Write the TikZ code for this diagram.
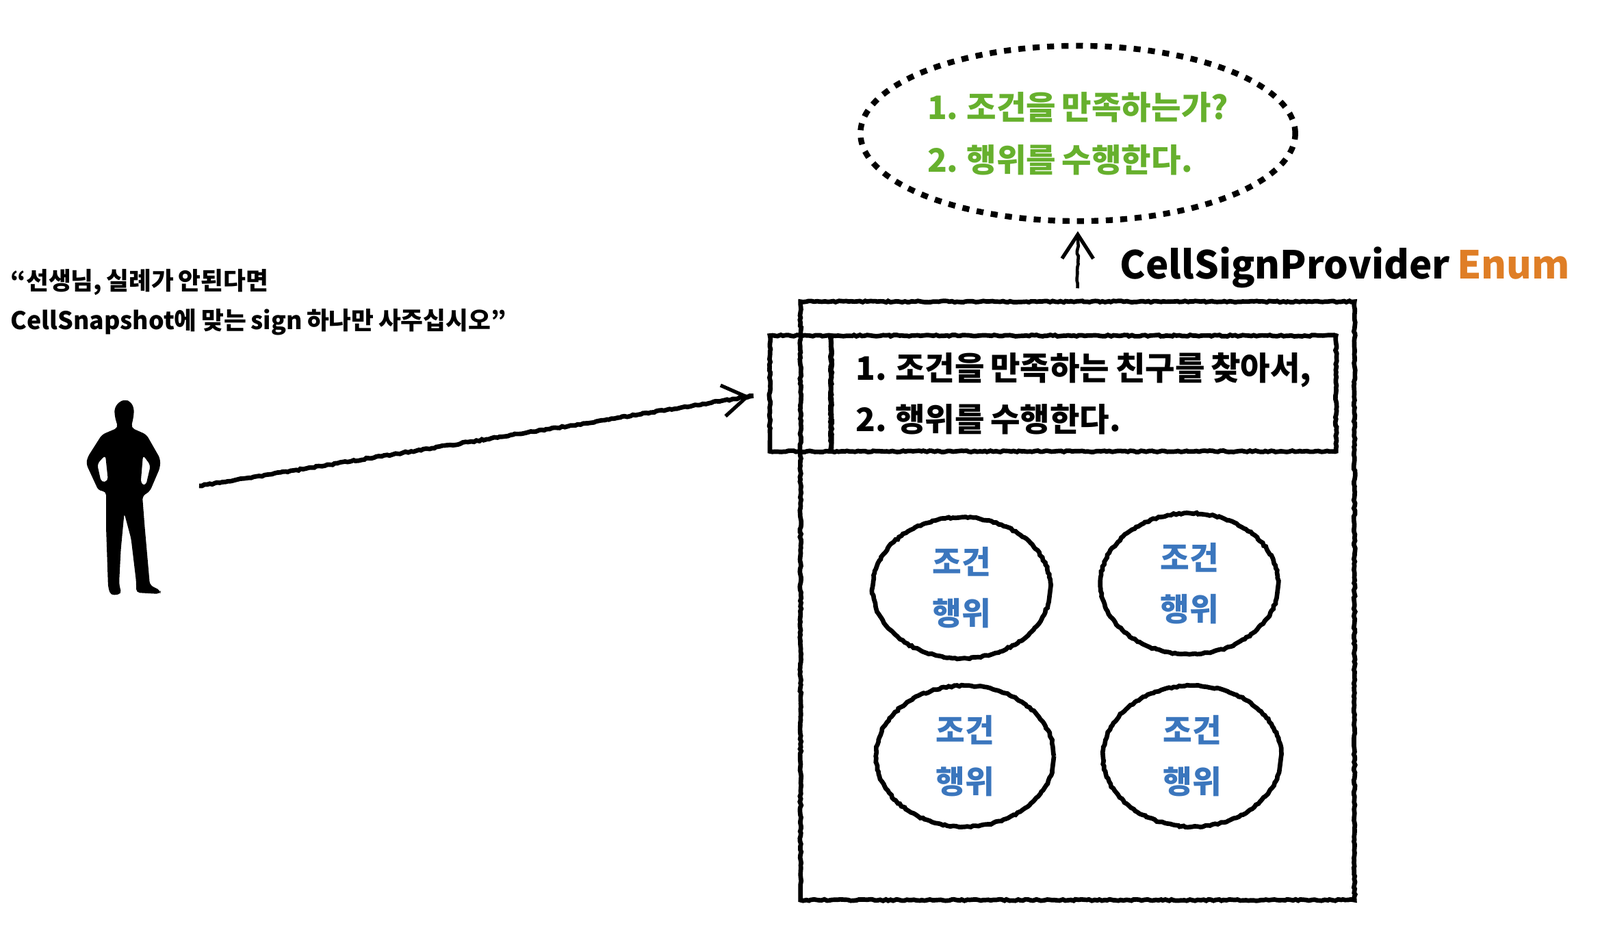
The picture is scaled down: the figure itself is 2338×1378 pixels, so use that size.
\documentclass[tikz,border=0pt]{standalone}
\usepackage{fontspec}
\setmainfont{Noto Sans CJK KR}[BoldFont={* Black},WordSpace=0.8]
\usetikzlibrary{arrows.meta,decorations.pathmorphing,positioning,shapes.geometric}
\definecolor{condgreen}{HTML}{66B02D}
\definecolor{rulesblue}{HTML}{3B76BD}
\definecolor{enumorange}{HTML}{DF7E26}
\tikzset{
  chalk/.style={draw,line width=1.9pt,decorate,
    decoration={random steps,segment length=1.1pt,amplitude=.3pt,post length=6pt,post=lineto}},
  chalkarrow/.style={chalk,-{Straight Barb[length=10pt,width=13pt,line width=1.5pt]}},
  rulebox/.style={chalk,minimum height=1.69cm,inner sep=0pt},
  itembubble/.style={chalk,ellipse,minimum width=2.6cm,minimum height=2.06cm,inner sep=0pt,
    text=rulesblue,align=center,font=\bfseries\fontsize{13.2}{21.3}\selectfont},
}
\begin{document}
\begin{tikzpicture}[x=0.01cm,y=-0.01cm]
  \useasboundingbox (0,0) rectangle (2338,1378);
  % speech
  \node[anchor=north west,align=left,inner sep=0pt,font=\bfseries\fontsize{10.15}{16.5}\selectfont] (speech) at (15,393)
    {“선생님, 실례가 안된다면\\CellSnapshot에 맞는 sign 하나만 사주십시오”};
  % person
  \fill[even odd rule,rounded corners=1.5pt]
    (183,584) -- (191,587) -- (196,597) -- (195,610) -- (191.5,625) -- (214,635) -- (234,670) -- (234,683)
    -- (219,718) -- (208,725) -- (211.5,770) -- (219,855) -- (235,863) -- (234,868) -- (199,866)
    -- (199,850) -- (191.5,787) -- (181.6,750) -- (176.6,803) -- (174,853) -- (177.6,868)
    -- (161.7,870) -- (158,858) -- (155,770) -- (155,718) -- (144,717) -- (126,678) -- (128,668)
    -- (149,635) -- (172.6,625) -- (168,610) -- (167,597) -- (174,587) -- cycle
    (154,665) -- (142,678) -- (148,705) -- (158,703) -- cycle
    (209,665) -- (220,680) -- (213,710) -- (205.5,707) -- cycle;
  \coordinate (person) at (291,710);
  % enum body
  \node[chalk,minimum width=8.09cm,minimum height=8.74cm] (enumbox) at (1574.5,878) {};
  \node[rulebox,minimum width=7.37cm,align=left,
    font=\bfseries\fontsize{13.45}{21.3}\selectfont] (contract) at (1583.5,575)
    {1. 조건을 만족하는 친구를 찾아서,\\2. 행위를 수행한다.};
  \node[rulebox,minimum width=.89cm,left=-1.7pt of contract] (tab) {};
  % constants
  \foreach \name/\x/\y in {itemA/1405/859, itemB/1738/853, itemC/1410/1105, itemD/1742/1105} {
      \node[itembubble] (\name) at (\x,\y) {조건\\행위};
  }
  % strategy
  \node[draw,ellipse,line width=2.4pt,dash pattern=on 2.9pt off 3.1pt,minimum width=6.35cm,minimum height=2.56cm,
    inner sep=0pt,text=condgreen,align=left,font=\bfseries\fontsize{13.45}{21.9}\selectfont] (strategy) at (1575,195)
    {1. 조건을 만족하는가?\\2. 행위를 수행한다.};
  \node[anchor=base west,inner sep=0pt,font=\bfseries\fontsize{16}{20}\selectfont] (enumname) at (1636,407)
    {CellSignProvider \textcolor{enumorange}{Enum}};
  % arrows
  \coordinate[above=4.6pt of enumbox.north] (arrowfoot);
  \draw[chalkarrow,shorten >=7.4pt] (person) -- (tab.west);
  \draw[chalkarrow,line width=1.3pt,shorten >=3pt] (arrowfoot) -- (strategy.south);
\end{tikzpicture}
\end{document}
